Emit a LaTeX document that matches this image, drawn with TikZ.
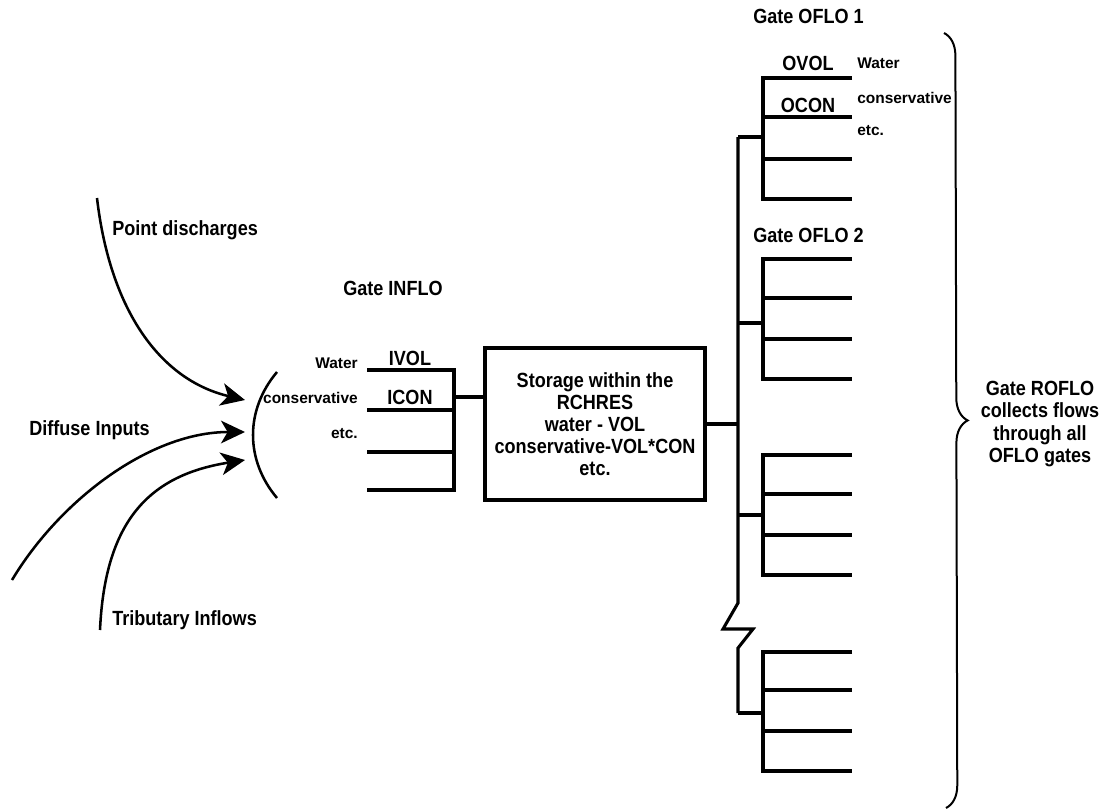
\documentclass[tikz,border=0pt]{standalone}
\usepackage{fontspec}
\setmainfont{Liberation Sans}
\newfontfamily\narrowfont[FakeStretch=0.88]{Liberation Sans}
\usetikzlibrary{arrows.meta,decorations.pathreplacing}
\begin{document}
\begin{tikzpicture}[x=0.75pt,y=-0.75pt,
  lbl/.style={font=\narrowfont\fontsize{15.4}{16.7}\selectfont\bfseries, inner sep=0pt},
  small/.style={font=\fontsize{11.6}{14}\selectfont\bfseries, inner sep=0pt},
  wire/.style={line width=2.3pt, line join=miter},
  flow/.style={line width=1.9pt, -{Stealth[length=18pt,width=17pt,inset=5pt]}},
  storebox/.style={draw, line width=2.3pt, minimum width=165pt, minimum height=114pt, align=center,
     font=\narrowfont\fontsize{15.4}{16.5}\selectfont\bfseries, inner sep=0pt}]
\useasboundingbox (0,0) rectangle (1105,810);

% ---- inflow sources ----
\node[lbl, anchor=mid west] (pd) at (112,232) {Point discharges};
\node[lbl, anchor=mid west] (di) at (29,432) {Diffuse Inputs};
\node[lbl, anchor=mid west] (ti) at (112,622) {Tributary Inflows};

\coordinate (p0) at (97,198);   \coordinate (p1) at (245,400);
\coordinate (d0) at (12,580);   \coordinate (d1) at (245,432);
\coordinate (t0) at (100,630);  \coordinate (t1) at (245,460);
\draw[flow] (p0) .. controls (110,310) and (160,380) .. (p1);
\draw[flow] (d0) .. controls (60,500) and (150,432) .. (d1);
\draw[flow] (t0) .. controls (105,520) and (150,475) .. (t1);

% bracket
\coordinate (ba) at (277,372); \coordinate (bc) at (277,498);
\draw[line width=1.9pt] (ba) .. controls (245,410) and (245,460) .. (bc);

% ---- Gate INFLO ----
\node[lbl, anchor=mid west] (ginflo) at (343,292) {Gate INFLO};
\node[small, anchor=mid east] (iw) at (358,365) {Water};
\node[small, anchor=mid east] (ic) at (358,400) {conservative};
\node[small, anchor=mid east] (ie) at (358,435) {etc.};
\node[lbl] (ivol) at (410,358) {IVOL};
\node[lbl] (icon) at (410,397) {ICON};
\draw[wire] (367,370) -- (454,370) -- (454,490) -- (367,490);
\draw[wire] (367,410) -- (454,410);
\draw[wire] (367,452) -- (454,452);
\coordinate (inj) at (454,397);

% ---- storage ----
\node[storebox] (store) at (595,424) {Storage within the\\RCHRES\\water - VOL\\conservative-VOL*CON\\etc.};
\draw[wire] (inj) -- (inj -| store.west);

% ---- outflow bus ----
\coordinate (b0) at (738,137);
\coordinate (bm) at (738,424);
\coordinate (z1) at (738,603);
\coordinate (z2) at (723,629);
\coordinate (z3) at (753,629);
\coordinate (z4) at (738,648);
\coordinate (b4) at (738,713);
\draw[wire] (store.east |- bm) -- (bm);
\draw[wire] (b0) -- (z1) -- (z2) -- (z3) -- (z4) -- (b4);

% gates
\foreach \a/\b/\c/\d/\m [count=\i] in {78/117/159/199/137, 259/298/339/379/323, 455/494/535/575/515, 652/690/731/771/713}{
  \coordinate (g\i) at (763,\m);
  \draw[wire] (852,\a) -- (763,\a) -- (763,\d) -- (852,\d);
  \draw[wire] (763,\b) -- (852,\b);
  \draw[wire] (763,\c) -- (852,\c);
  \draw[wire] (738,\m) -- (g\i);
}

\node[lbl, anchor=mid west] (go1) at (753,20) {Gate OFLO 1};
\node[lbl] (ovol) at (808,63) {OVOL};
\node[lbl] (ocon) at (808,105) {OCON};
\node[small, anchor=mid west] (ow) at (857,65) {Water};
\node[small, anchor=mid west] (oc) at (857,100) {conservative};
\node[small, anchor=mid west] (oe) at (857,132) {etc.};
\node[lbl, anchor=mid west] (go2) at (753,239) {Gate OFLO 2};

% ---- brace and ROFLO ----
\coordinate (bt) at (944,33);
\coordinate (bb) at (946,808);
\draw[line width=1.5pt, decorate, decoration={brace, amplitude=17pt}] (bt) -- (bb);
\node[lbl, align=center] (roflo) at (1040,424) {Gate ROFLO\\collects flows\\through all\\OFLO gates};
\end{tikzpicture}
\end{document}
